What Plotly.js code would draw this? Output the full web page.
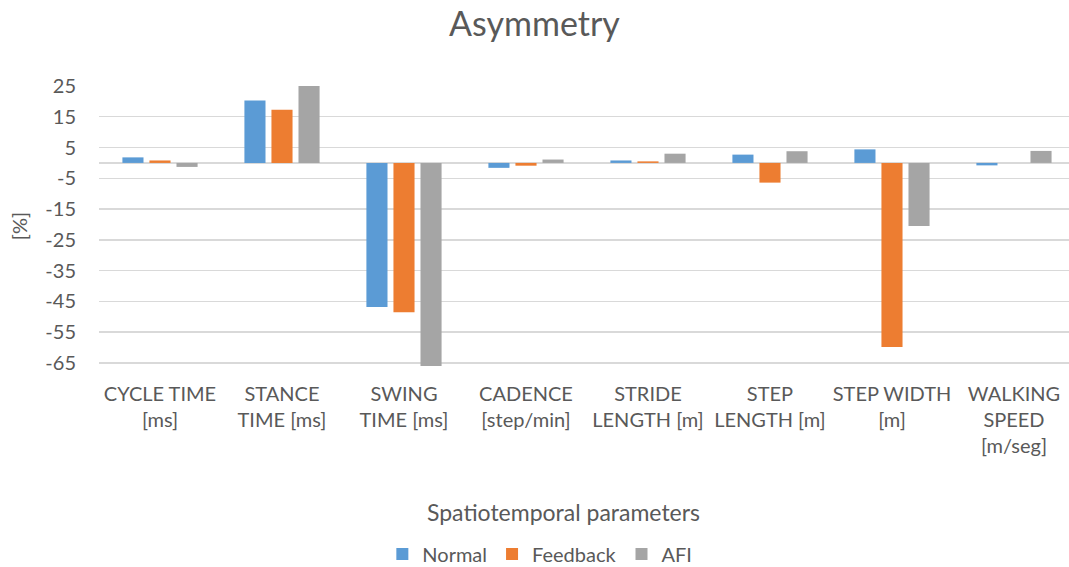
<!DOCTYPE html>
<html>
<head>
<meta charset="utf-8">
<script src="https://cdn.plot.ly/plotly-3.0.1.min.js"></script>
<style>
  html, body { margin: 0; padding: 0; background: #ffffff; }
  #chart { width: 1069px; height: 567px; }
</style>
</head>
<body>
<div id="chart"></div>
<script>
// Spatiotemporal gait parameters, asymmetry in percent
const categories = [
  "CYCLE TIME [ms]", "STANCE TIME [ms]", "SWING TIME [ms]", "CADENCE [step/min]",
  "STRIDE LENGTH [m]", "STEP LENGTH [m]", "STEP WIDTH [m]", "WALKING SPEED [m/seg]"
];
const tickLabels = [
  "CYCLE TIME<br>[ms]", "STANCE<br>TIME [ms]", "SWING<br>TIME [ms]", "CADENCE<br>[step/min]",
  "STRIDE<br>LENGTH [m]", "STEP<br>LENGTH [m]", "STEP WIDTH<br>[m]", "WALKING<br>SPEED<br>[m/seg]"
];
const normal   = [1.8, 20.3, -46.8, -1.6, 0.8, 2.7, 4.4, -0.8];
const feedback = [0.8, 17.3, -48.5, -0.9, 0.5, -6.4, -59.8, 0.0];
const afi      = [-1.3, 25.0, -66.0, 1.1, 3.0, 3.8, -20.5, 3.9];
const yTicks   = [25, 15, 5, -5, -15, -25, -35, -45, -55, -65];

const FONT = "Lato, 'Open Sans', sans-serif";
const TEXT = "#595959";

const series = [
  { name: "Normal",   y: normal,   color: "#5B9BD5" },
  { name: "Feedback", y: feedback, color: "#ED7D31" },
  { name: "AFI",      y: afi,      color: "#A5A5A5" }
];

const data = series.map(s => ({
  type: "bar",
  name: s.name,
  x: categories,
  y: s.y,
  marker: { color: s.color, line: { width: 0 } },
  hoverinfo: "x+y+name"
}));

const layout = {
  width: 1069,
  height: 567,
  paper_bgcolor: "#ffffff",
  plot_bgcolor: "#ffffff",
  font: { family: FONT, color: TEXT, size: 20 },
  margin: { l: 99, r: 0, t: 86, b: 201, autoexpand: false },
  title: {
    text: "Asymmetry",
    font: { family: FONT, size: 34, color: TEXT },
    x: 0.5, xref: "container", xanchor: "center",
    y: 0.958, yref: "container", yanchor: "middle"
  },
  barmode: "group",
  bargap: 0.335,
  bargroupgap: 0.22,
  xaxis: {
    type: "category",
    range: [-0.5, 7.451],
    tickvals: categories,
    ticktext: tickLabels,
    tickfont: { family: FONT, size: 20, color: TEXT },
    showgrid: false,
    showline: false,
    ticks: "",
    ticklabelstandoff: 14,
    tickangle: 0,
    fixedrange: true
  },
  yaxis: {
    range: [-66, 25],
    tickvals: yTicks,
    ticktext: yTicks.map(String),
    tickfont: { family: FONT, size: 20, color: TEXT },
    showgrid: true,
    gridcolor: "#D9D9D9",
    gridwidth: 1.3,
    zeroline: true,
    zerolinecolor: "#D9D9D9",
    zerolinewidth: 1.5,
    showline: false,
    ticks: "",
    ticklabelstandoff: 22,
    title: { text: "[%]", font: { family: FONT, size: 20, color: TEXT }, standoff: 12 },
    fixedrange: true
  },
  showlegend: true,
  legend: {
    orientation: "h",
    xref: "container", yref: "container",
    x: 0.505, xanchor: "center",
    y: 0.023, yanchor: "middle",
    font: { family: FONT, size: 20, color: TEXT },
    itemwidth: 30,
    traceorder: "normal"
  },
  annotations: [{
    text: "Spatiotemporal parameters",
    xref: "paper", yref: "paper",
    x: 0.479, y: -0.521,
    xanchor: "center", yanchor: "middle",
    showarrow: false,
    font: { family: FONT, size: 23, color: TEXT }
  }]
};

Plotly.newPlot("chart", data, layout, { displayModeBar: false, staticPlot: true });
</script>
</body>
</html>
